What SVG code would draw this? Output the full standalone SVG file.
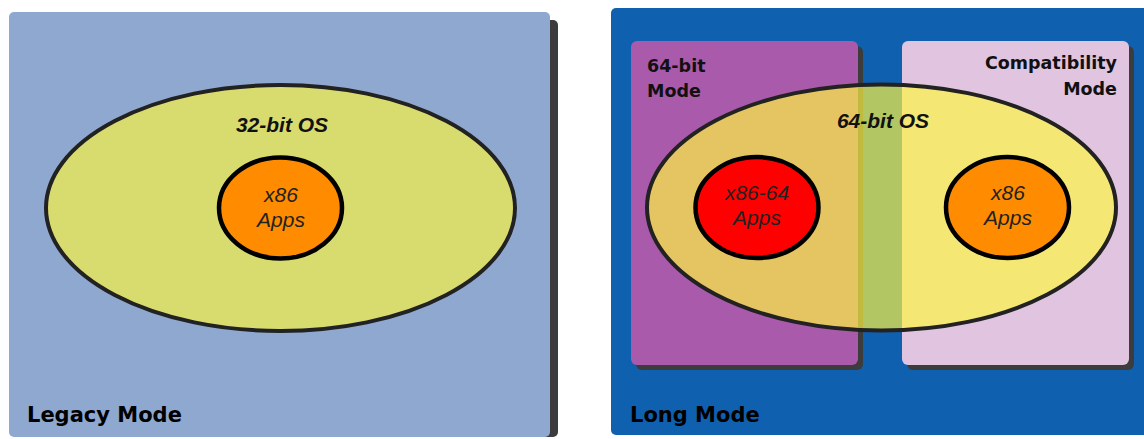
<svg xmlns="http://www.w3.org/2000/svg" width="1144" height="439" viewBox="0 0 1144 439">
<style>
.shadow{fill:#3c3c3c}
.os{stroke:#222;stroke-width:4}
.app{stroke:#000;stroke-width:4.5}
.title{font-family:"DejaVu Sans",Verdana,sans-serif;font-weight:bold;font-size:21px;fill:#000}
.sub{font-family:"DejaVu Sans",Verdana,sans-serif;font-weight:bold;font-size:17.5px;fill:#111}
.oslbl{font-family:"Liberation Sans",Arial,sans-serif;font-weight:bold;font-style:italic;font-size:21px;fill:#111;text-anchor:middle}
.applbl{font-family:"Liberation Sans",Arial,sans-serif;font-style:italic;font-size:21px;fill:#222;text-anchor:middle}
</style>
<rect width="1144" height="439" fill="#fff"/>
<g id="legacy-mode">
  <rect class="shadow" x="17" y="20" width="541" height="417" rx="5"/>
  <rect x="9" y="12" width="541" height="425" rx="5" fill="#8fa8d0"/>
  <text class="title" x="27" y="422">Legacy Mode</text>
</g>
<g id="os32">
  <ellipse class="os" cx="280.5" cy="208" rx="234.5" ry="123" fill="#d8dc6e"/>
  <text class="oslbl" x="282" y="132">32-bit OS</text>
</g>
<g id="x86-apps-legacy">
  <ellipse class="app" cx="280.5" cy="208" rx="61.5" ry="50.5" fill="#ff8c00"/>
  <text class="applbl" x="281" y="202">x86</text>
  <text class="applbl" x="281" y="227">Apps</text>
</g>
<g id="long-mode">
  <rect x="611" y="8" width="545" height="427" rx="5" fill="#1060b0"/>
  <text class="title" x="630" y="422">Long Mode</text>
</g>
<g id="mode64">
  <rect class="shadow" x="636" y="46" width="227" height="324" rx="6"/>
  <rect x="631" y="41" width="227" height="324" rx="6" fill="#aa5aaa"/>
  <text class="sub" x="647" y="72">64-bit</text>
  <text class="sub" x="647" y="97">Mode</text>
</g>
<g id="compat-mode">
  <rect class="shadow" x="907" y="46" width="227" height="324" rx="6"/>
  <rect x="902" y="41" width="227" height="324" rx="6" fill="#e0c4e0"/>
  <text class="sub" x="1117" y="69" text-anchor="end">Compatibility</text>
  <text class="sub" x="1117" y="95" text-anchor="end">Mode</text>
</g>
<g id="os64">
  <ellipse cx="881.5" cy="207.5" rx="234.5" ry="123" fill="#fff840" fill-opacity="0.68"/>
  <ellipse class="os" cx="881.5" cy="207.5" rx="234.5" ry="123" fill="none"/>
  <text class="oslbl" x="883" y="128">64-bit OS</text>
</g>
<g id="x86-64-apps">
  <ellipse class="app" cx="757" cy="207.5" rx="61.5" ry="50.5" fill="#ff0000"/>
  <text class="applbl" x="757" y="200">x86-64</text>
  <text class="applbl" x="757" y="225">Apps</text>
</g>
<g id="x86-apps-compat">
  <ellipse class="app" cx="1007.5" cy="207.5" rx="61.5" ry="50.5" fill="#ff8c00"/>
  <text class="applbl" x="1008" y="200">x86</text>
  <text class="applbl" x="1008" y="225">Apps</text>
</g>
<g id="connectors"/>
</svg>
